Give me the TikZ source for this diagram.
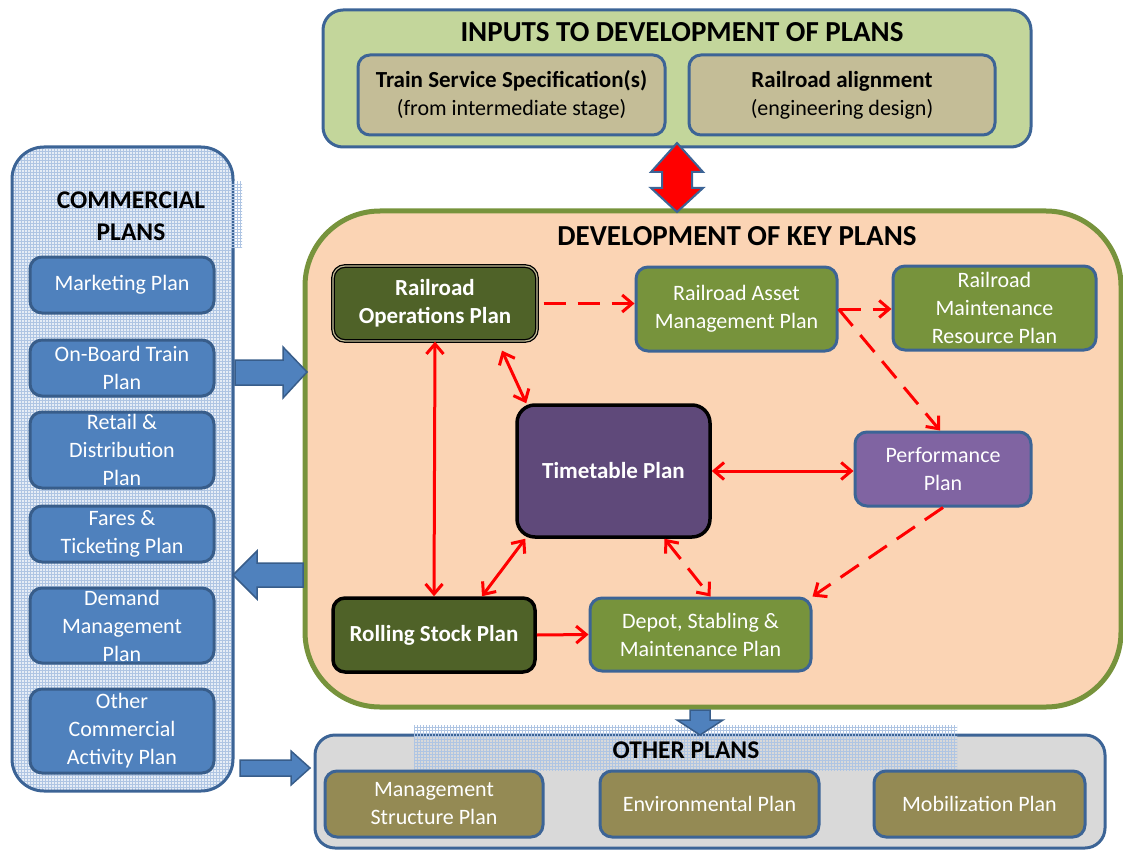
\documentclass[tikz,border=0pt]{standalone}
\usepackage{fontspec}
\setmainfont{Carlito}
\usetikzlibrary{arrows.meta,calc,patterns}
\definecolor{bblue}{HTML}{3C6496}
\definecolor{topgreen}{HTML}{C3D69B}
\definecolor{tan}{HTML}{C4BD97}
\definecolor{peach}{HTML}{FBD4B4}
\definecolor{olive}{HTML}{77933C}
\definecolor{darkolive}{HTML}{4F6228}
\definecolor{ttpurple}{HTML}{5F497A}
\definecolor{perfpurple}{HTML}{8064A2}
\definecolor{lblue}{HTML}{4F81BD}
\definecolor{lblueborder}{HTML}{385D8A}
\definecolor{panelbg}{HTML}{E6EDF6}
\definecolor{gridblue}{HTML}{AFC5E3}
\definecolor{othergray}{HTML}{D9D9D9}
\definecolor{khaki}{HTML}{948A54}
\begin{document}
\begin{tikzpicture}[x=1pt,y=-1pt,
  >={Straight Barb[length=10pt,width=17pt]},
  txt/.style={font=\fontsize{22}{28}\selectfont},
  boldtxt/.style={font=\fontsize{23}{28}\selectfont\bfseries},
  titletxt/.style={font=\fontsize{29}{32}\selectfont\bfseries, text=black},
  subtitle/.style={font=\fontsize{25.5}{32}\selectfont\bfseries, text=black, align=center},
  basebox/.style={rectangle, rounded corners=12pt, align=center, inner sep=0pt, txt},
  inbox/.style={basebox, fill=tan, draw=bblue, line width=3pt, text=black},
  greenbox/.style={basebox, fill=olive, draw=bblue, line width=3pt, text=white},
  darkbox/.style={basebox, fill=darkolive, draw=black, line width=3pt, text=white, boldtxt},
  purplebox/.style={basebox, fill=perfpurple, draw=bblue, line width=3pt, text=white},
  bluebox/.style={basebox, fill=lblue, draw=lblueborder, line width=3pt, text=white},
  khakibox/.style={basebox, fill=khaki, draw=bblue, line width=3pt, text=white},
  redln/.style={draw=red, line width=3pt},
  reddash/.style={draw=red, line width=3pt, dash pattern=on 22pt off 12pt},
  blockarrow/.style={fill=lblue, draw=lblueborder, line width=1.5pt, line join=miter},
  gridpat/.style={pattern=grid, pattern color=gridblue}
]
\useasboundingbox (0,0) rectangle (1123,850);

% ---------- top box ----------
\node[rectangle, rounded corners=20pt, fill=topgreen, draw=bblue, line width=3pt,
      minimum width=708pt, minimum height=137pt] (top) at (677,78.5) {};
\node[titletxt] (toptitle) at (682,32) {INPUTS TO DEVELOPMENT OF PLANS};
\node[inbox, minimum width=307pt, minimum height=80pt] (ts) at (511.5,95)
  {{\fontsize{23}{28}\selectfont\bfseries Train Service Specification(s)}\\(from intermediate stage)};
\node[inbox, minimum width=306pt, minimum height=80pt] (ra) at (842,95)
  {{\fontsize{23}{28}\selectfont\bfseries Railroad alignment}\\(engineering design)};

% ---------- commercial panel ----------
\node[rectangle, rounded corners=32pt, preaction={fill=panelbg}, gridpat, draw=bblue, line width=3pt,
      minimum width=221pt, minimum height=644pt] (comm) at (122.5,469) {};
\path[gridpat] (55,182) rectangle (242,247);
\node[subtitle] (commtitle) at (131,216) {COMMERCIAL\\PLANS};
\node[bluebox, minimum width=184pt, minimum height=56pt] (mkt) at (122,285) {Marketing Plan};
\node[bluebox, minimum width=184pt, minimum height=56pt] (onb) at (122,368) {On-Board Train\\Plan};
\node[bluebox, minimum width=184pt, minimum height=76pt] (ret) at (122,450) {Retail \&\\Distribution\\Plan};
\node[bluebox, minimum width=184pt, minimum height=56pt] (fares) at (122,534) {Fares \&\\Ticketing Plan};
\node[bluebox, minimum width=184pt, minimum height=75pt] (dem) at (122,625.5) {Demand\\Management\\Plan};
\node[bluebox, minimum width=184pt, minimum height=84pt] (oth) at (122,731) {Other\\Commercial\\Activity Plan};

% ---------- main box ----------
\node[rectangle, rounded corners=75pt, fill=peach, draw=olive, line width=5pt,
      minimum width=816pt, minimum height=496pt] (main) at (713,459) {};
\node[titletxt] (maintitle) at (737,236) {DEVELOPMENT OF KEY PLANS};

\node[darkbox, draw=black, line width=1.3pt, double=tan, double distance=1.2pt,
      minimum width=204pt, minimum height=75pt] (ops) at (435,303.5) {Railroad\\Operations Plan};
\node[greenbox, minimum width=201pt, minimum height=84pt] (asset) at (736.5,309) {Railroad Asset\\Management Plan};
\node[greenbox, minimum width=203pt, minimum height=84pt] (maint) at (994.5,308) {Railroad\\Maintenance\\Resource Plan};
\node[basebox, fill=ttpurple, draw=black, line width=3.5pt, text=white, rounded corners=18pt,
      boldtxt, minimum width=193pt, minimum height=132pt] (tt) at (613.5,471) {Timetable Plan};
\node[purplebox, minimum width=176pt, minimum height=74pt] (perf) at (943,469) {Performance\\Plan};
\node[darkbox, line width=3.5pt, minimum width=202pt, minimum height=74pt] (roll) at (434,635) {Rolling Stock Plan};
\node[greenbox, minimum width=221pt, minimum height=73pt] (depot) at (700.5,634.5) {Depot, Stabling \&\\Maintenance Plan};

% ---------- red connectors ----------
\draw[reddash, ->] ($(ops.east)+(6,0)$) -- (ops.east -| asset.west);
\draw[reddash, ->] (asset.east) -- (asset.east -| maint.west);
\draw[reddash, ->] (asset.east) -- ($(perf.north)+(-3,0)$);
\draw[redln, <->] (tt.east) -- (tt.east -| perf.west);
\draw[redln, <->] ($(ops.south)+(67,9)$) -- ($(tt.north west)+(11,0)$);
\draw[redln, <->] (ops.south) -- (roll.north);
\draw[redln, <->] ($(tt.south west)+(10,0)$) -- ($(roll.north)+(48,0)$);
\draw[reddash, <->] ($(tt.south)+(51,0)$) -- ($(depot.north)+(10,0)$);
\draw[reddash, ->] (perf.south) -- (depot.north east);
\draw[redln, ->] (roll.east) -- (depot.west);

% ---------- other plans ----------
\node[rectangle, rounded corners=20pt, fill=othergray, draw=bblue, line width=3pt,
      minimum width=790pt, minimum height=113pt] (other) at (710,791.5) {};
\path[gridpat] (414,725) rectangle (957,770);
\node[subtitle] (othertitle) at (686,750) {OTHER PLANS};
\node[khakibox, minimum width=218pt, minimum height=66pt] (mgmt) at (434,804) {Management\\Structure Plan};
\node[khakibox, minimum width=219pt, minimum height=66pt] (env) at (709.5,804) {Environmental Plan};
\node[khakibox, minimum width=211pt, minimum height=66pt] (mob) at (979.5,804) {Mobilization Plan};

% ---------- block arrows ----------
\draw[fill=red, draw=bblue, line width=2pt, line join=miter]
  (662,172) -- (651,172) -- (677,143) -- (703,172) -- (692,172) -- (692,188)
  -- (703,188) -- (677,212) -- (651,188) -- (662,188) -- cycle;
\draw[blockarrow] (235,360) -- (283,360) -- (283,347) -- (307,372) -- (283,398) -- (283,385) -- (235,385) -- cycle;
\draw[blockarrow] (303,563) -- (257,563) -- (257,551) -- (233,575) -- (257,599) -- (257,587) -- (303,587) -- cycle;
\draw[blockarrow] (240,760) -- (291,760) -- (291,751) -- (310,768) -- (291,785) -- (291,776) -- (240,776) -- cycle;
\draw[blockarrow] (690,710) -- (710,710) -- (710,720) -- (723,720) -- (700,735) -- (677,720) -- (690,720) -- cycle;
\end{tikzpicture}
\end{document}
